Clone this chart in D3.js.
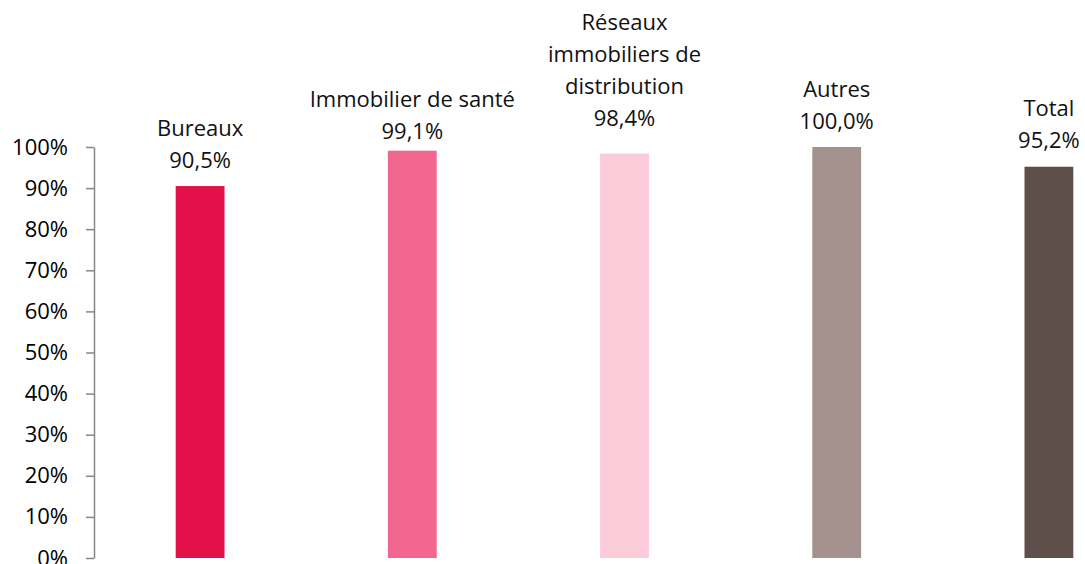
<!DOCTYPE html>
<html>
<head>
    <meta charset="utf-8">
    <title>Taux d'occupation</title>
    <script src="https://d3js.org/d3.v7.min.js"></script>
    <style>
        body { margin: 0; background: #fff; }
        svg { display: block; }
        text { font-family: "Open Sans", sans-serif; }
    </style>
</head>
<body>
    <div id="chart"></div>
    <script>
        // data
        const categories = ["Bureaux", "Immobilier de santé", "Réseaux\nimmobiliers de\ndistribution", "Autres", "Total"];
        const values = [0.905, 0.991, 0.984, 1.000, 0.952];
        const colors = ["#e3104a", "#f2678f", "#fbcbd9", "#a4928e", "#5e4f4b"];
        const tickValues = [0, 0.1, 0.2, 0.3, 0.4, 0.5, 0.6, 0.7, 0.8, 0.9, 1.0];

        const width = 1085, height = 564;
        const fontSize = 22, lineHeight = 32;
        // labels were nudged by hand in the original, gap between bar top and value baseline
        const labelGap = [18, 12, 28, 18, 19];

        const fr = d3.formatLocale({ decimal: ",", thousands: " ", grouping: [3], currency: ["", " €"] });
        const pct = fr.format(".1%");

        const svg = d3.select("#chart")
            .append("svg")
            .attr("width", width)
            .attr("height", height);

        const x = d3.scaleBand()
            .domain(categories)
            .range([94, 1155])
            .paddingInner(0.77)
            .paddingOuter(0.385);

        const y = d3.scaleLinear()
            .domain([0, 1])
            .range([558, 147]);

        // y axis
        const yAxis = svg.append("g")
            .attr("transform", "translate(94,0)")
            .call(d3.axisLeft(y)
                .tickValues(tickValues)
                .tickFormat(d3.format(".0%"))
                .tickSize(8)
                .tickSizeOuter(0)
                .tickPadding(18));

        yAxis.select(".domain").attr("stroke", "#868686").attr("stroke-width", 1.5);
        yAxis.selectAll(".tick line").attr("stroke", "#868686").attr("stroke-width", 1.5);
        yAxis.selectAll(".tick text")
            .attr("fill", "#000")
            .style("font-family", "'Open Sans', sans-serif")
            .style("font-size", fontSize + "px");

        // bars
        svg.append("g")
            .selectAll("rect")
            .data(categories)
            .join("rect")
            .attr("x", d => x(d))
            .attr("width", x.bandwidth())
            .attr("y", (d, i) => y(values[i]))
            .attr("height", (d, i) => y(0) - y(values[i]))
            .attr("fill", (d, i) => colors[i]);

        // labels: category name lines + value
        const labels = svg.append("g")
            .attr("text-anchor", "middle")
            .style("font-size", fontSize + "px")
            .attr("fill", "#111")
            .selectAll("g")
            .data(categories)
            .join("g")
            .attr("transform", (d, i) => `translate(${x(d) + x.bandwidth() / 2},${y(values[i]) - labelGap[i]})`);

        labels.append("text")
            .text((d, i) => pct(values[i]));

        labels.each(function (d) {
            const lines = d.split("\n").reverse();
            const g = d3.select(this);
            lines.forEach((line, k) => {
                g.append("text")
                    .attr("y", -(k + 1) * lineHeight)
                    .text(line);
            });
        });
    </script>
</body>
</html>
